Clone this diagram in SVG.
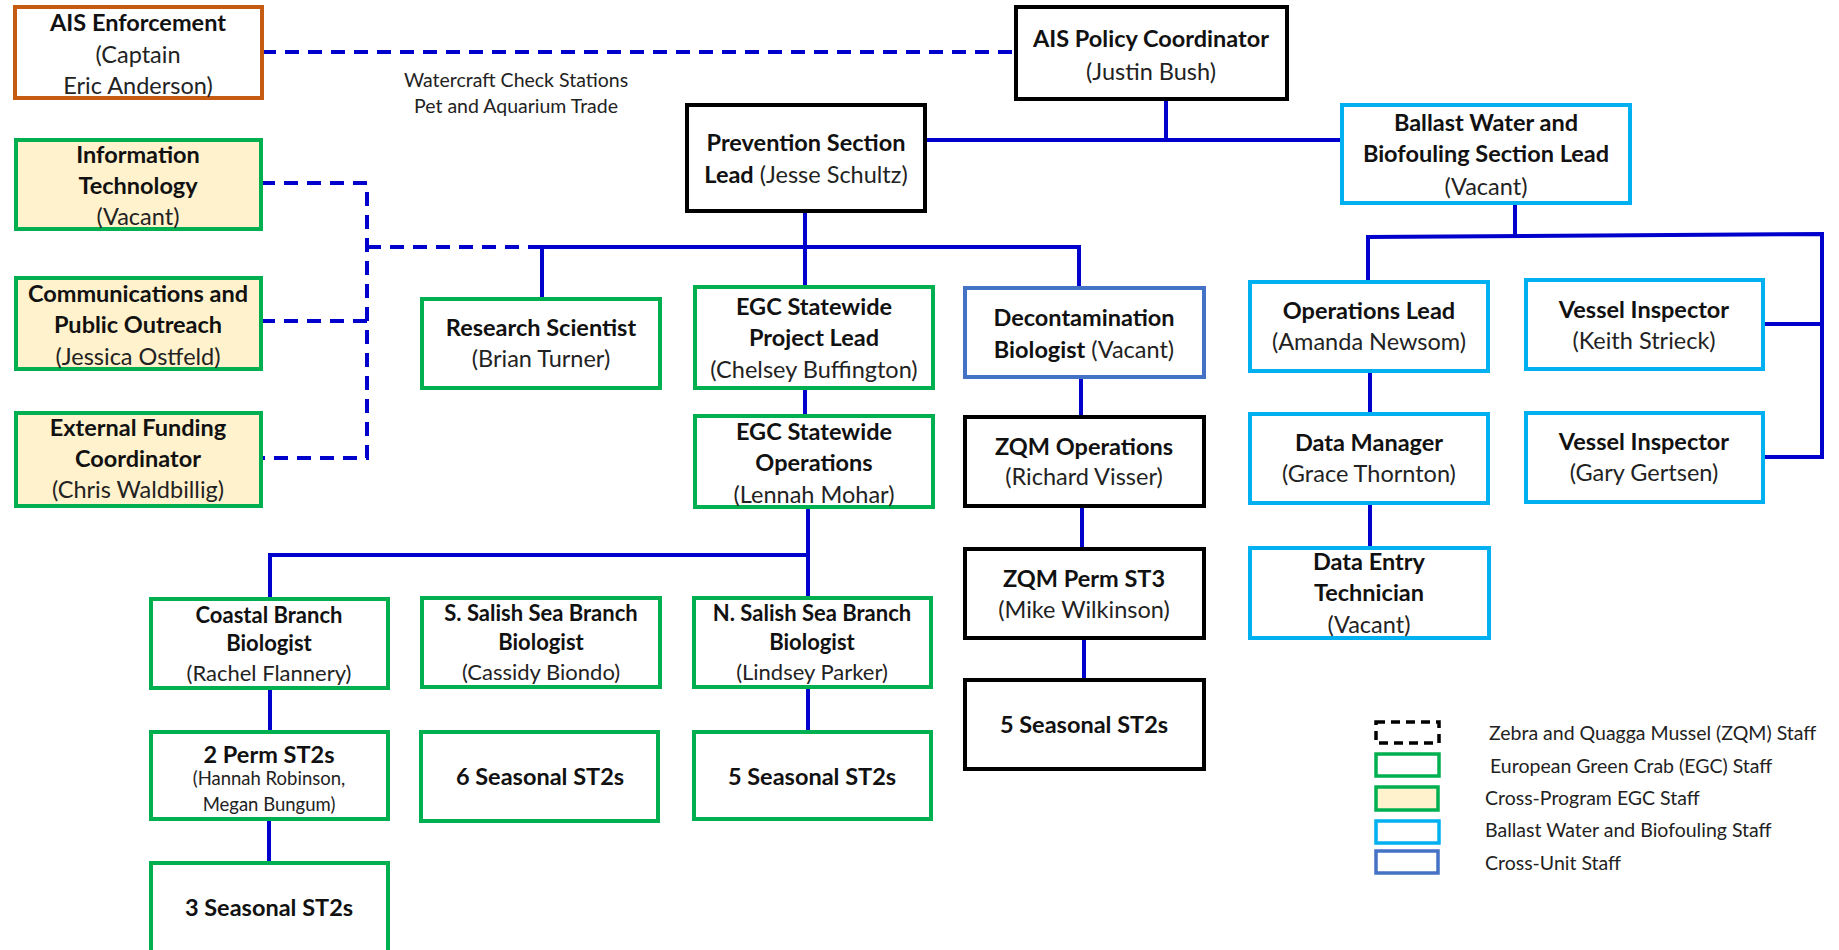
<svg xmlns="http://www.w3.org/2000/svg" width="1839" height="950" viewBox="0 0 1839 950">
<style>
  .box{fill:#fff;stroke-width:4}
  .blk{stroke:#000}
  .grn{stroke:#00B050}
  .crm{fill:#FFF2CC;stroke:#00B050}
  .lbl{stroke:#00B0F0}
  .blu{stroke:#4472C4}
  .org{stroke:#C55A11}
  text{font-family:Lato,"Liberation Sans",sans-serif;text-anchor:middle;fill:#111}
  .b{font-weight:bold;font-size:23.5px}
  .r{font-size:23.5px;fill:#222}
  .bs{font-weight:bold;font-size:22px}
  .rs{font-size:22px;fill:#222}
  .rx{font-size:18.5px;fill:#222}
  .note{font-size:19.5px;fill:#222}
  .leg{font-size:19.5px;fill:#222;text-anchor:start}
  .ln{stroke:#0000CC;stroke-width:4;fill:none}
  .dash{stroke:#0000CC;stroke-width:4;fill:none;stroke-dasharray:14 9}
</style>

<g id="connectors">
  <line class="dash" x1="262" y1="52" x2="1016" y2="52"/>
  <line class="ln" x1="1166" y1="99" x2="1166" y2="140"/>
  <line class="ln" x1="925" y1="140" x2="1342" y2="140"/>
  <line class="ln" x1="805" y1="211" x2="805" y2="247"/>
  <polyline class="dash" points="261,183 367,183 367,458 261,458"/>
  <line class="dash" x1="261" y1="321" x2="367" y2="321"/>
  <line class="dash" x1="367" y1="247" x2="540" y2="247"/>
  <line class="ln" x1="540" y1="247" x2="1081" y2="247"/>
  <line class="ln" x1="542" y1="247" x2="542" y2="299"/>
  <line class="ln" x1="805" y1="247" x2="805" y2="287"/>
  <line class="ln" x1="1079" y1="247" x2="1079" y2="288"/>
  <line class="ln" x1="805" y1="388" x2="805" y2="416"/>
  <line class="ln" x1="1081" y1="377" x2="1081" y2="417"/>
  <line class="ln" x1="808" y1="507" x2="808" y2="598"/>
  <polyline class="ln" points="808,555 270,555 270,599"/>
  <line class="ln" x1="270" y1="688" x2="270" y2="732"/>
  <line class="ln" x1="269" y1="819" x2="269" y2="863"/>
  <line class="ln" x1="808" y1="687" x2="808" y2="732"/>
  <line class="ln" x1="1082" y1="506" x2="1082" y2="549"/>
  <line class="ln" x1="1084" y1="638" x2="1084" y2="680"/>
  <line class="ln" x1="1515" y1="203" x2="1515" y2="236"/>
  <polyline class="ln" points="1368,282 1368,237 1822,234 1822,457 1763,457"/>
  <line class="ln" x1="1763" y1="324" x2="1822" y2="324"/>
  <line class="ln" x1="1370" y1="371" x2="1370" y2="414"/>
  <line class="ln" x1="1370" y1="503" x2="1370" y2="548"/>
</g>

<g id="ais-enforcement">
  <rect class="box org" x="15" y="7" width="247" height="91"/>
  <text class="b" x="138" y="31">AIS Enforcement</text>
  <text class="r" x="138" y="63">(Captain</text>
  <text class="r" x="138" y="94">Eric Anderson)</text>
</g>
<g id="ais-note">
  <text class="note" x="516" y="87">Watercraft Check Stations</text>
  <text class="note" x="516" y="113">Pet and Aquarium Trade</text>
</g>
<g id="ais-policy">
  <rect class="box blk" x="1016" y="7" width="271" height="92"/>
  <text class="b" x="1151" y="47">AIS Policy Coordinator</text>
  <text class="r" x="1151" y="80">(Justin Bush)</text>
</g>
<g id="prevention">
  <rect class="box blk" x="687" y="105" width="238" height="106"/>
  <text class="b" x="806" y="151">Prevention Section</text>
  <text x="806" y="183"><tspan class="b">Lead</tspan><tspan class="r"> (Jesse Schultz)</tspan></text>
</g>
<g id="ballast-lead">
  <rect class="box lbl" x="1342" y="105" width="288" height="98"/>
  <text class="b" x="1486" y="131">Ballast Water and</text>
  <text class="b" x="1486" y="162">Biofouling Section Lead</text>
  <text class="r" x="1486" y="195">(Vacant)</text>
</g>
<g id="info-tech">
  <rect class="box crm" x="16" y="140" width="245" height="89"/>
  <text class="b" x="138" y="163">Information</text>
  <text class="b" x="138" y="194">Technology</text>
  <text class="r" x="138" y="225">(Vacant)</text>
</g>
<g id="communications">
  <rect class="box crm" x="16" y="278" width="245" height="91"/>
  <text class="b" x="138" y="302">Communications and</text>
  <text class="b" x="138" y="333">Public Outreach</text>
  <text class="r" x="138" y="365">(Jessica Ostfeld)</text>
</g>
<g id="external-funding">
  <rect class="box crm" x="16" y="413" width="245" height="93"/>
  <text class="b" x="138" y="436">External Funding</text>
  <text class="b" x="138" y="467">Coordinator</text>
  <text class="r" x="138" y="498">(Chris Waldbillig)</text>
</g>
<g id="research-scientist">
  <rect class="box grn" x="422" y="299" width="238" height="89"/>
  <text class="b" x="541" y="336">Research Scientist</text>
  <text class="r" x="541" y="367">(Brian Turner)</text>
</g>
<g id="egc-project-lead">
  <rect class="box grn" x="695" y="287" width="238" height="101"/>
  <text class="b" x="814" y="315">EGC Statewide</text>
  <text class="b" x="814" y="346">Project Lead</text>
  <text class="r" x="814" y="378">(Chelsey Buffington)</text>
</g>
<g id="decontamination">
  <rect class="box blu" x="965" y="288" width="239" height="89"/>
  <text class="b" x="1084" y="326">Decontamination</text>
  <text x="1084" y="358"><tspan class="b">Biologist</tspan><tspan class="r"> (Vacant)</tspan></text>
</g>
<g id="egc-operations">
  <rect class="box grn" x="695" y="416" width="238" height="91"/>
  <text class="b" x="814" y="440">EGC Statewide</text>
  <text class="b" x="814" y="471">Operations</text>
  <text class="r" x="814" y="503">(Lennah Mohar)</text>
</g>
<g id="zqm-operations">
  <rect class="box blk" x="965" y="417" width="239" height="89"/>
  <text class="b" x="1084" y="455">ZQM Operations</text>
  <text class="r" x="1084" y="485">(Richard Visser)</text>
</g>
<g id="operations-lead">
  <rect class="box lbl" x="1250" y="282" width="238" height="89"/>
  <text class="b" x="1369" y="319">Operations Lead</text>
  <text class="r" x="1369" y="350">(Amanda Newsom)</text>
</g>
<g id="data-manager">
  <rect class="box lbl" x="1250" y="414" width="238" height="89"/>
  <text class="b" x="1369" y="451">Data Manager</text>
  <text class="r" x="1369" y="482">(Grace Thornton)</text>
</g>
<g id="data-entry">
  <rect class="box lbl" x="1250" y="548" width="239" height="90"/>
  <text class="b" x="1369" y="570">Data Entry</text>
  <text class="b" x="1369" y="601">Technician</text>
  <text class="r" x="1369" y="633">(Vacant)</text>
</g>
<g id="vessel-inspector-1">
  <rect class="box lbl" x="1526" y="280" width="237" height="89"/>
  <text class="b" x="1644" y="318">Vessel Inspector</text>
  <text class="r" x="1644" y="349">(Keith Strieck)</text>
</g>
<g id="vessel-inspector-2">
  <rect class="box lbl" x="1526" y="413" width="237" height="89"/>
  <text class="b" x="1644" y="450">Vessel Inspector</text>
  <text class="r" x="1644" y="481">(Gary Gertsen)</text>
</g>
<g id="coastal-branch">
  <rect class="box grn" x="151" y="599" width="237" height="89"/>
  <text class="bs" x="269" y="623">Coastal Branch</text>
  <text class="bs" x="269" y="651">Biologist</text>
  <text class="rs" x="269" y="681">(Rachel Flannery)</text>
</g>
<g id="s-salish-branch">
  <rect class="box grn" x="422" y="598" width="238" height="89"/>
  <text class="bs" x="541" y="621">S. Salish Sea Branch</text>
  <text class="bs" x="541" y="650">Biologist</text>
  <text class="rs" x="541" y="680">(Cassidy Biondo)</text>
</g>
<g id="n-salish-branch">
  <rect class="box grn" x="694" y="598" width="237" height="89"/>
  <text class="bs" x="812" y="621">N. Salish Sea Branch</text>
  <text class="bs" x="812" y="650">Biologist</text>
  <text class="rs" x="812" y="680">(Lindsey Parker)</text>
</g>
<g id="zqm-perm-st3">
  <rect class="box blk" x="965" y="549" width="239" height="89"/>
  <text class="b" x="1084" y="587">ZQM Perm ST3</text>
  <text class="r" x="1084" y="618">(Mike Wilkinson)</text>
</g>
<g id="perm-st2s">
  <rect class="box grn" x="151" y="732" width="237" height="87"/>
  <text class="b" x="269" y="763">2 Perm ST2s</text>
  <text class="rx" x="269" y="785">(Hannah Robinson,</text>
  <text class="rx" x="269" y="811">Megan Bungum)</text>
</g>
<g id="s-salish-seasonal">
  <rect class="box grn" x="421" y="732" width="237" height="89"/>
  <text class="b" x="540" y="785">6 Seasonal ST2s</text>
</g>
<g id="n-salish-seasonal">
  <rect class="box grn" x="694" y="732" width="237" height="87"/>
  <text class="b" x="812" y="785">5 Seasonal ST2s</text>
</g>
<g id="zqm-seasonal">
  <rect class="box blk" x="965" y="680" width="239" height="89"/>
  <text class="b" x="1084" y="733">5 Seasonal ST2s</text>
</g>
<g id="coastal-seasonal">
  <rect class="box grn" x="151" y="863" width="237" height="100"/>
  <text class="b" x="269" y="916">3 Seasonal ST2s</text>
</g>

<g id="legend">
  <rect x="1376" y="722" width="63" height="21" fill="#fff" stroke="#000" stroke-width="3.5" stroke-dasharray="9 6"/>
  <rect x="1376" y="754" width="63" height="22" fill="#fff" stroke="#00B050" stroke-width="3.5"/>
  <rect x="1376" y="787" width="62" height="23" fill="#FFF2CC" stroke="#00B050" stroke-width="3.5"/>
  <rect x="1376" y="821" width="63" height="22" fill="#fff" stroke="#00B0F0" stroke-width="3.5"/>
  <rect x="1376" y="851" width="62" height="22" fill="#fff" stroke="#4472C4" stroke-width="3.5"/>
  <text class="leg" x="1489" y="740">Zebra and Quagga Mussel (ZQM) Staff</text>
  <text class="leg" x="1490" y="773">European Green Crab (EGC) Staff</text>
  <text class="leg" x="1485" y="805">Cross-Program EGC Staff</text>
  <text class="leg" x="1485" y="837">Ballast Water and Biofouling Staff</text>
  <text class="leg" x="1485" y="870">Cross-Unit Staff</text>
</g>
</svg>
